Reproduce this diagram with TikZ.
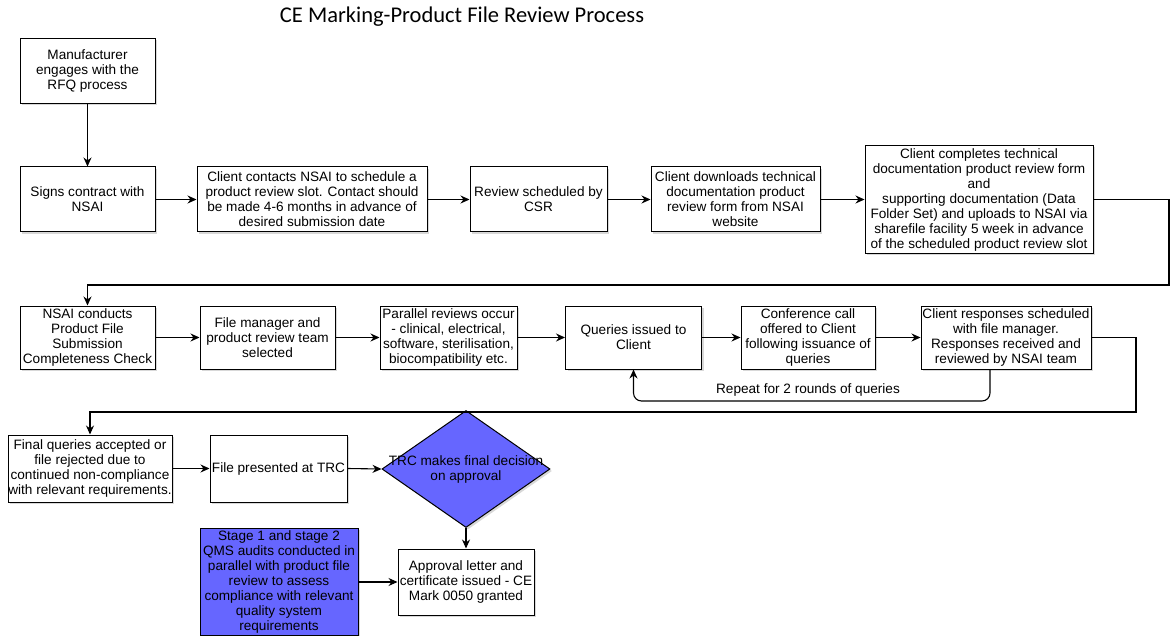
\documentclass[tikz,border=0pt]{standalone}
\usepackage{fontspec}
\setmainfont{Liberation Sans}
\newfontfamily\titlefont{Carlito}
\usetikzlibrary{arrows.meta,shapes.geometric,shadows}
\definecolor{dblue}{RGB}{102,102,255}
\tikzset{
  box/.style={draw=black, line width=1pt, fill=white, align=center, inner sep=0pt,
    font=\fontsize{13.6}{15}\selectfont,
    drop shadow={opacity=0.3, shadow xshift=2pt, shadow yshift=-2pt}},
  bluebox/.style={box, fill=dblue},
  dia/.style={diamond, draw=black, line width=1pt, fill=dblue, inner sep=0pt,
    drop shadow={opacity=0.3, shadow xshift=2pt, shadow yshift=-2pt}},
  arr/.style={draw=black, line width=1.1pt, -{Stealth[length=9pt,width=8pt]}},
  lbl/.style={font=\fontsize{13.6}{15}\selectfont, align=center, inner sep=0pt}
}
\begin{document}
\begin{tikzpicture}[x=1pt,y=-1pt]
\useasboundingbox[fill=white] (0,0) rectangle (1172,636);
\node[font=\titlefont\fontsize{22.5}{26}\selectfont] (title) at (462,17) {CE Marking-Product File Review Process};

\node[box, minimum width=135, minimum height=65] (b1) at (87.5,71) {Manufacturer\\engages with the\\RFQ process};
\node[box, minimum width=135, minimum height=65] (b2) at (87.5,199.5) {Signs contract with\\NSAI};
\node[box, minimum width=230, minimum height=65] (b3) at (312,199.5) {Client contacts NSAI to schedule a\\product review slot. Contact should\\be made 4-6 months in advance of\\desired submission date};
\node[box, minimum width=137, minimum height=65] (b4) at (538.5,199.5) {Review scheduled by\\CSR};
\node[box, minimum width=169, minimum height=65] (b5) at (735.5,199.5) {Client downloads technical\\documentation product\\review form from NSAI\\website};
\node[box, minimum width=228, minimum height=108] (b6) at (979,199.5) {Client completes technical\\documentation product review form\\and\\supporting documentation (Data\\Folder Set) and uploads to NSAI via\\sharefile facility 5 week in advance\\of the scheduled product review slot};

\node[box, minimum width=135, minimum height=63] (b7) at (87.5,337.5) {NSAI conducts\\Product File\\Submission\\Completeness Check};
\node[box, minimum width=135, minimum height=63] (b8) at (267.5,337.5) {File manager and\\product review team\\selected};
\node[box, minimum width=137, minimum height=63] (b9) at (448.5,337.5) {Parallel reviews occur\\- clinical, electrical,\\software, sterilisation,\\biocompatibility etc.};
\node[box, minimum width=136, minimum height=63] (b10) at (633.5,337.5) {Queries issued to\\Client};
\node[box, minimum width=134, minimum height=63] (b11) at (808,337.5) {Conference call\\offered to Client\\following issuance of\\queries};
\node[box, minimum width=170, minimum height=63] (b12) at (1006,337.5) {Client responses scheduled\\with file manager.\\Responses received and\\reviewed by NSAI team};

\node[box, minimum width=164, minimum height=67] (b13) at (90,468.5) {Final queries accepted or\\file rejected due to\\continued non-compliance\\with relevant requirements.};
\node[box, minimum width=137, minimum height=67] (b14) at (278.5,468.5) {File presented at TRC};
\node[dia, minimum width=168, minimum height=117] (d15) at (466,469) {};
\node[lbl] (d15t) at (466,469) {TRC makes final decision\\on approval};
\node[box, minimum width=136, minimum height=66] (b16) at (466,582) {Approval letter and\\certificate issued - CE\\Mark 0050 granted};
\node[bluebox, minimum width=158, minimum height=107] (b17) at (279,581.5) {Stage 1 and stage 2\\QMS audits conducted in\\parallel with product file\\review to assess\\compliance with relevant\\quality system\\requirements};

\coordinate (k1) at (1169,285);
\coordinate (k2) at (1136,412);
\coordinate (l1) at (990,401);

\draw[arr] (b1) -- (b2);
\draw[arr] (b2) -- (b3);
\draw[arr] (b3) -- (b4);
\draw[arr] (b4) -- (b5);
\draw[arr] (b5) -- (b6);
\draw[arr] (b6.east) -| (k1) -| (b7.north);
\draw[arr] (b7) -- (b8);
\draw[arr] (b8) -- (b9);
\draw[arr] (b9) -- (b10);
\draw[arr] (b10) -- (b11);
\draw[arr] (b11) -- (b12);
\draw[arr, rounded corners=8pt] (b12.south -| l1) -- (l1) -- (l1 -| b10) -- (b10.south);
\node[lbl] (rep) at (808,390) {Repeat for 2 rounds of queries};
\draw[arr] (b12.east) -| (k2) -| (b13.north);
\draw[arr] (b13) -- (b14);
\draw[arr] (b14.east) -- (d15.west);
\draw[arr] (d15.south) -- (b16.north);
\draw[arr] (b17.east |- b16) -- (b16.west);
\end{tikzpicture}
\end{document}
